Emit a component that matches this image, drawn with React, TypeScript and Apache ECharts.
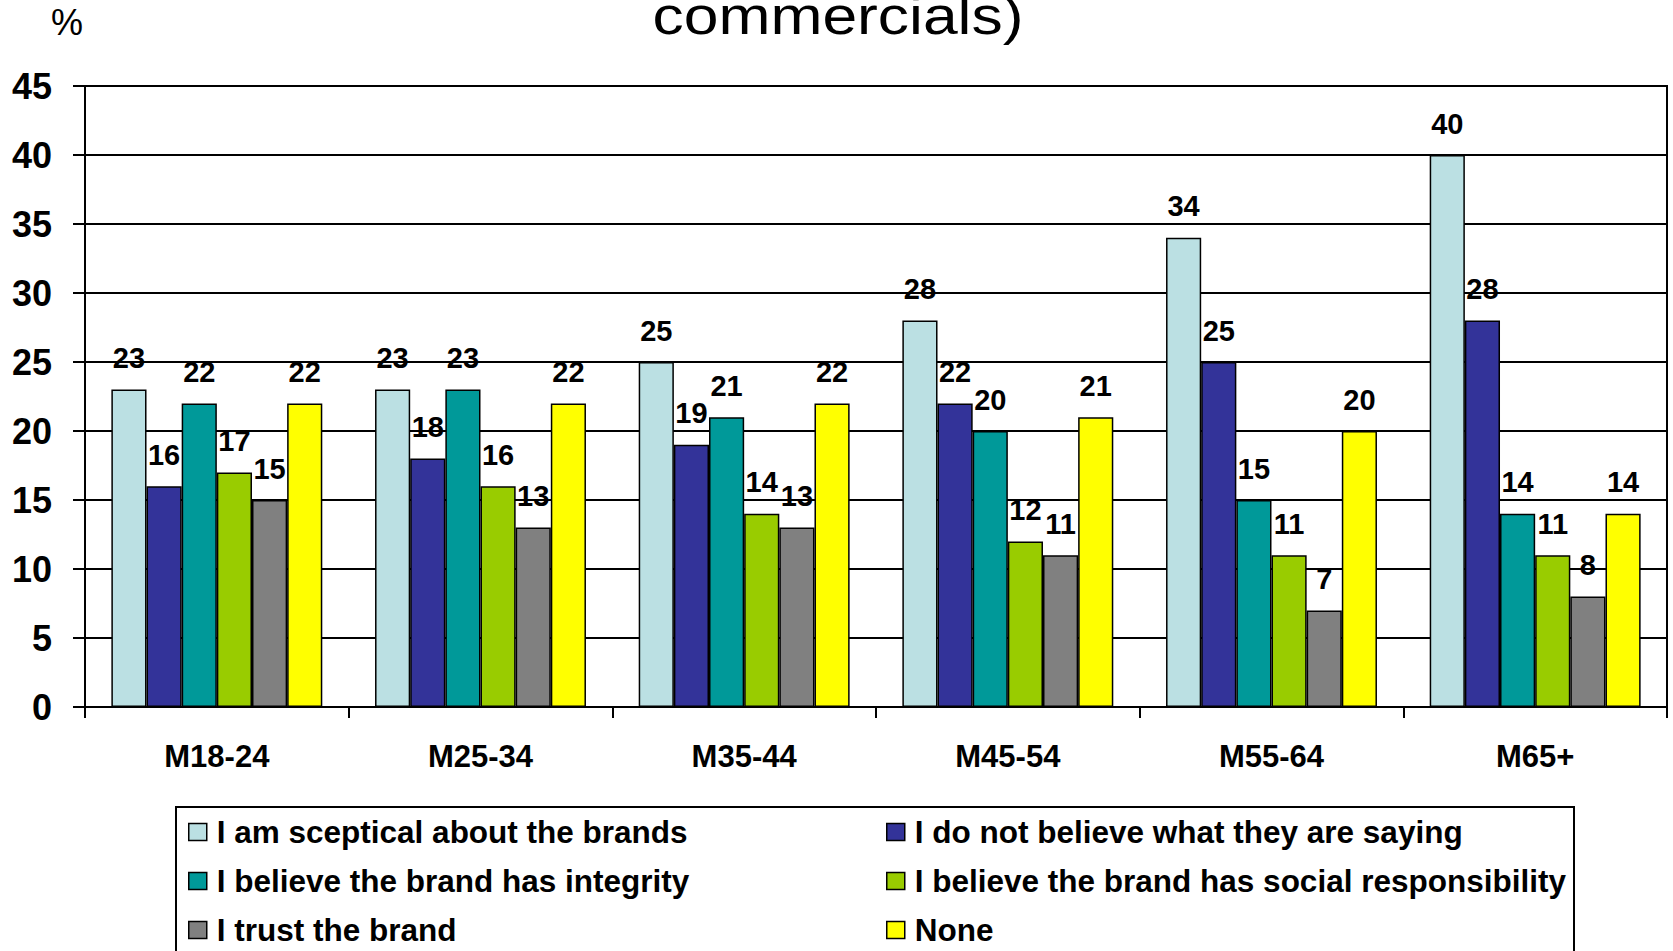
import React, { useEffect, useRef } from "react";
import * as echarts from "echarts";

const FONT = "'Liberation Sans', Arial, Helvetica, sans-serif";

const categories = ["M18-24", "M25-34", "M35-44", "M45-54", "M55-64", "M65+"];
const seriesNames = [
  "I am sceptical about the brands",
  "I do not believe what they are saying",
  "I believe the brand has integrity",
  "I believe the brand has social responsibility",
  "I trust the brand",
  "None",
];
const seriesColors = ["#BBE0E3", "#333399", "#009999", "#99CC00", "#808080", "#FFFF00"];
const sceptical = [23, 23, 25, 28, 34, 40];
const notBelieve = [16, 18, 19, 22, 25, 28];
const integrity = [22, 23, 21, 20, 15, 14];
const socialResp = [17, 16, 14, 12, 11, 11];
const trustBrand = [15, 13, 13, 11, 7, 8];
const noneValues = [22, 22, 22, 21, 20, 14];
const seriesValues = [sceptical, notBelieve, integrity, socialResp, trustBrand, noneValues];

const yMin = 0;
const yMax = 45;
const yInterval = 5;

export default function App() {
  const ref = useRef<HTMLDivElement>(null);

  useEffect(() => {
    if (!ref.current) return;
    const chart = echarts.init(ref.current, undefined, { renderer: "svg" });

    const legendCommon = {
      orient: "vertical" as const,
      icon: "rect",
      itemWidth: 18,
      itemHeight: 17,
      itemGap: 17,
      itemStyle: { borderColor: "#000", borderWidth: 1.5 },
      textStyle: {
        fontSize: 31.5,
        fontWeight: "bold" as const,
        fontFamily: FONT,
        color: "#000",
        padding: [0, 0, 0, 5],
      },
      selectedMode: false,
      padding: 0,
    };

    chart.setOption({
      animation: false,
      backgroundColor: "#fff",
      grid: {
        left: 85,
        right: 6,
        top: 86,
        bottom: 244,
        show: true,
        borderColor: "#000",
        borderWidth: 2,
      },
      xAxis: {
        type: "category",
        data: categories,
        boundaryGap: true,
        axisLine: { show: true, lineStyle: { color: "#000", width: 2 } },
        axisTick: { show: true, length: 11, lineStyle: { color: "#000", width: 2 } },
        axisLabel: {
          fontSize: 31,
          fontWeight: "bold",
          fontFamily: FONT,
          color: "#000",
          margin: 34,
        },
        splitLine: { show: false },
      },
      yAxis: {
        type: "value",
        min: yMin,
        max: yMax,
        interval: yInterval,
        axisLine: { show: true, lineStyle: { color: "#000", width: 2 } },
        axisTick: { show: true, length: 12, lineStyle: { color: "#000", width: 2 } },
        axisLabel: {
          fontSize: 36,
          fontWeight: "bold",
          fontFamily: FONT,
          color: "#000",
          margin: 33,
        },
        splitLine: { show: true, lineStyle: { color: "#000", width: 2 } },
      },
      legend: [
        { ...legendCommon, data: [seriesNames[0], seriesNames[2], seriesNames[4]], left: 188, top: 816 },
        { ...legendCommon, data: [seriesNames[1], seriesNames[3], seriesNames[5]], left: 886, top: 816 },
      ],
      graphic: [
        {
          type: "rect",
          shape: { x: 176, y: 807, width: 1398, height: 200 },
          style: { fill: "none", stroke: "#000", lineWidth: 2 },
          z: -1,
        },
        {
          type: "text",
          x: 838,
          y: 42,
          scaleX: 1.2,
          style: {
            text: "commercials)",
            fontSize: 52,
            fontFamily: FONT,
            fill: "#000",
            textAlign: "center",
            textVerticalAlign: "bottom",
          },
        },
        {
          type: "text",
          x: 67,
          y: 22,
          style: {
            text: "%",
            fontSize: 36,
            fontFamily: FONT,
            fill: "#000",
            textAlign: "center",
            textVerticalAlign: "middle",
          },
        },
      ],
      series: seriesNames.map((name, i) => ({
        name,
        type: "bar",
        data: seriesValues[i],
        barGap: "0%",
        barCategoryGap: "20%",
        itemStyle: { color: seriesColors[i], borderColor: "#000", borderWidth: 1.5 },
        label: {
          show: true,
          position: "top",
          distance: 17,
          fontSize: 29,
          fontWeight: "bold",
          fontFamily: FONT,
          color: "#000",
        },
      })),
    });

    return () => chart.dispose();
  }, []);

  return (
    <div
      ref={ref}
      style={{ position: "fixed", left: 0, top: 0, width: 1673, height: 951, background: "#fff" }}
    />
  );
}
